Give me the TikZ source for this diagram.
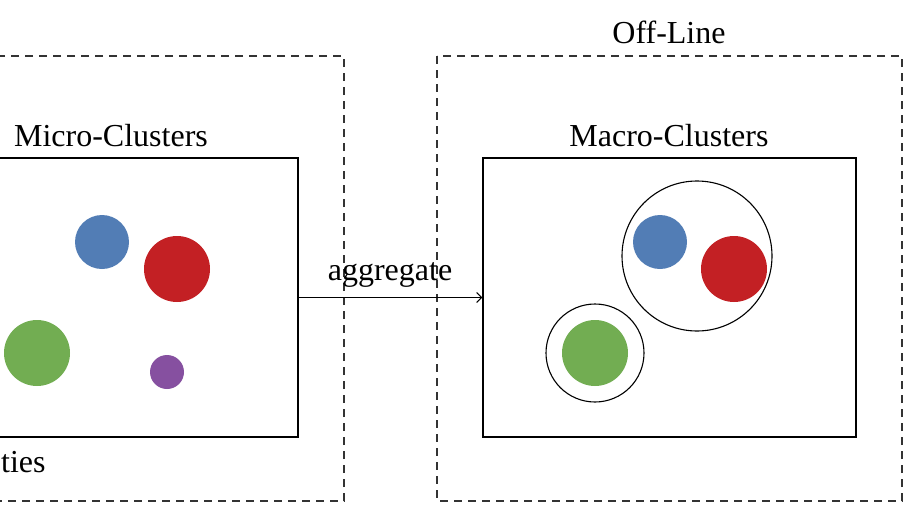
\documentclass[tikz,border=0pt]{standalone}
\usepackage{fontspec}
\setmainfont{Liberation Serif}
\usetikzlibrary{arrows.meta}
\definecolor{cblue}{HTML}{527DB5}
\definecolor{cred}{HTML}{C32024}
\definecolor{cgreen}{HTML}{72AD52}
\definecolor{cpurple}{HTML}{8650A0}
\begin{document}
\begin{tikzpicture}[x=1pt,y=-1pt,
  dashframe/.style={draw=black!80, line width=1.2pt, dash pattern=on 8pt off 6pt},
  clusterbox/.style={draw, line width=1.2pt, minimum width=373pt, minimum height=279pt, inner sep=0pt},
  blob/.style={circle, inner sep=0pt, minimum size=#1},
  ring/.style={circle, draw, line width=1.1pt, inner sep=0pt, minimum size=#1},
  lbl/.style={font=\fontsize{32}{38}\selectfont, inner sep=0pt, anchor=base}
]
\useasboundingbox (0,0) rectangle (918,517);
\clip (0,0) rectangle (918,517);
% frames
\draw[dashframe] (-121,56) rectangle (344,501);
\draw[dashframe] (437,56) rectangle (902,501);
% boxes
\node[clusterbox] (micro) at (111.5,297.5) {};
\node[clusterbox] (macro) at (669.5,297.5) {};
% labels
\node[lbl] (offline) at (669,43) {Off-Line};
\node[lbl] (microlbl) at (111,146) {Micro-Clusters};
\node[lbl] (macrolbl) at (669,146) {Macro-Clusters};
\node[lbl, anchor=base west] (ties) at (1,472) {ties};
% micro clusters
\node[blob=54pt, fill=cblue] (mb) at (102,242) {};
\node[blob=66pt, fill=cred] (mr) at (177,269) {};
\node[blob=66pt, fill=cgreen] (mg) at (37,353) {};
\node[blob=34pt, fill=cpurple] (mp) at (167,372) {};
% macro clusters
\node[blob=54pt, fill=cblue] (Mb) at (660,242) {};
\node[blob=66pt, fill=cred] (Mr) at (734,269) {};
\node[blob=66pt, fill=cgreen] (Mg) at (595,353) {};
\node[ring=150pt] (big) at (697,256) {};
\node[ring=98pt] (small) at (595,353) {};
% arrow
\draw[line width=1pt, -{Straight Barb[length=5pt,width=10pt]}] (micro.east) -- (macro.west);
\node[lbl] (aggtext) at (390,280) {aggregate};
\end{tikzpicture}
\end{document}
